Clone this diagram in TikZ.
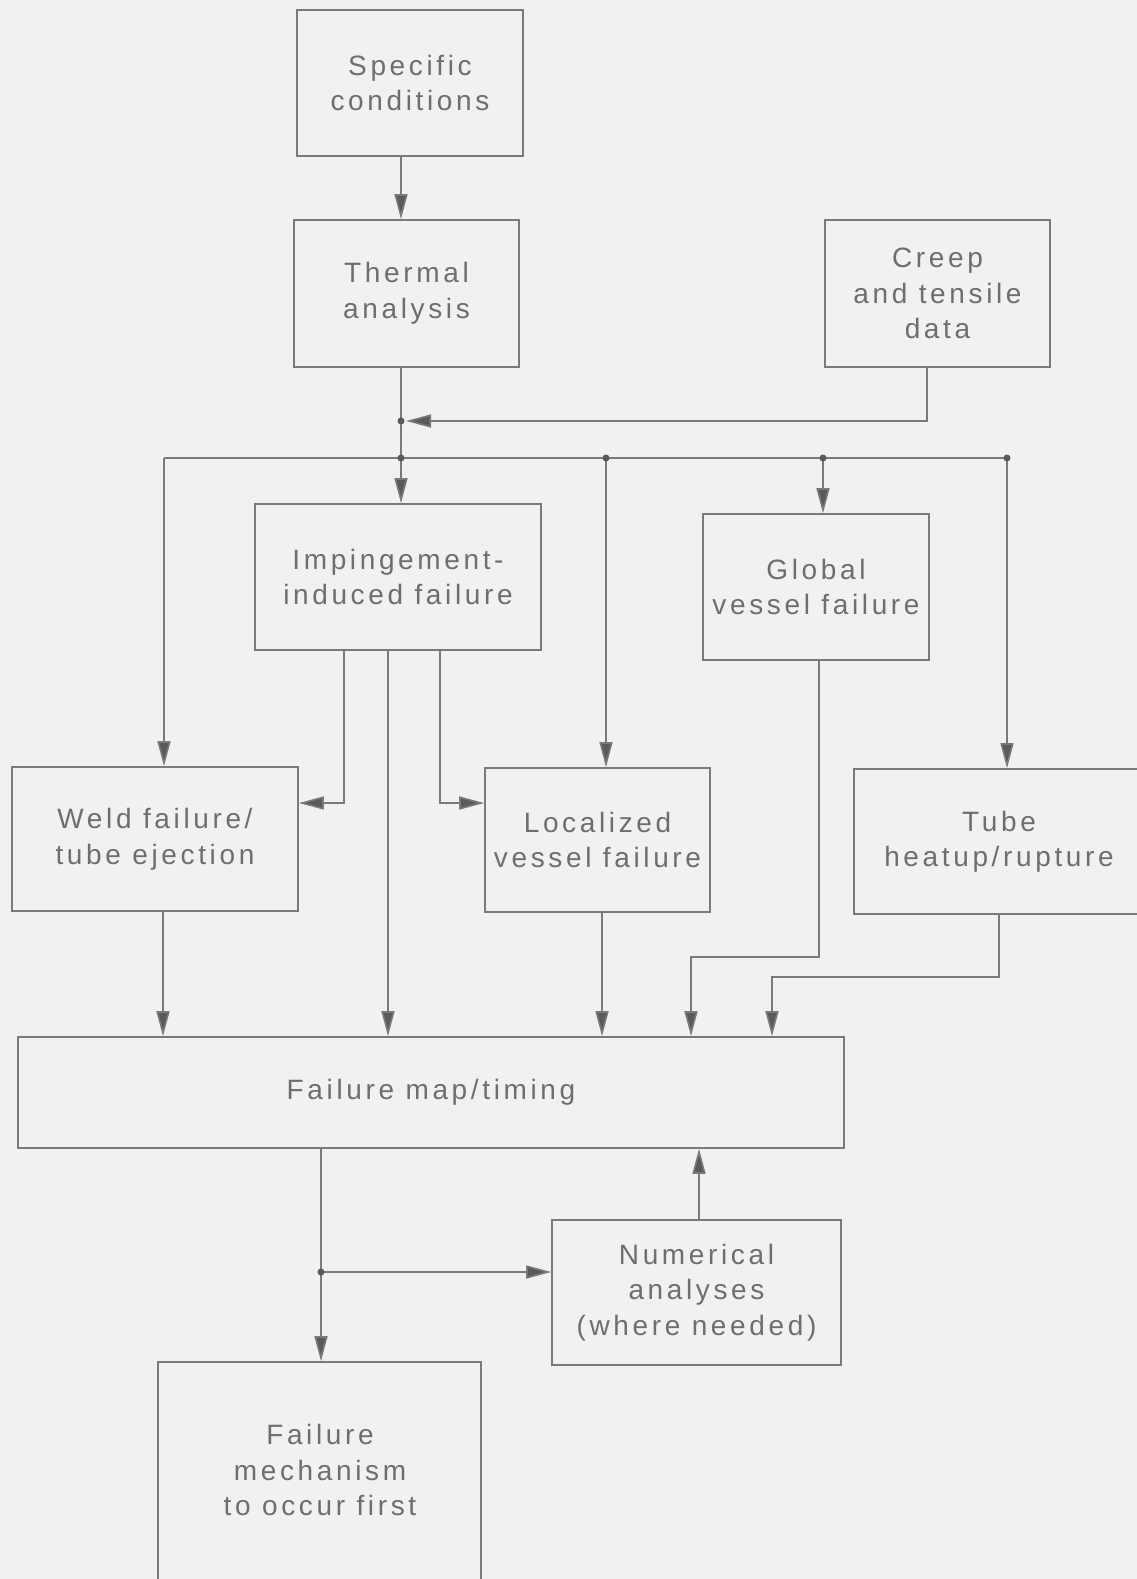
\documentclass[tikz,border=0pt]{standalone}
\usepackage{fontspec}
\setmainfont{Liberation Sans}[LetterSpace=13]
\usetikzlibrary{arrows.meta}
\definecolor{bg}{HTML}{F1F1F1}
\definecolor{ln}{HTML}{7A7A7A}
\definecolor{tx}{HTML}{6E6E6E}
\definecolor{ah}{HTML}{5A5A5A}
\tikzset{
  box/.style={draw=ln, line width=1.6pt, rectangle, inner sep=0pt},
  txt/.style={text=tx, align=center, font=\fontsize{28}{35.5}\selectfont},
  conn/.style={draw=ln, line width=1.6pt},
  arr/.style={conn, -{Triangle[length=25pt,width=13pt,fill=ah]}},
  jdot/.style={circle, fill=ah, inner sep=0pt, minimum size=7pt},
}
\begin{document}
\begin{tikzpicture}[x=1pt,y=-1pt]
\useasboundingbox (0,0) rectangle (1137,1579);
\fill[bg] (0,0) rectangle (1137,1579);
\clip (0,0) rectangle (1137,1579);

% boxes
\node[box, txt, minimum width=226pt, minimum height=146pt] (spec) at (410,83) {Specific\\conditions};
\node[box, txt, minimum width=225pt, minimum height=147pt] (therm) at (406.5,293.5) {Thermal\\analysis};
\node[box, txt, minimum width=225pt, minimum height=147pt] (creep) at (937.5,293.5) {Creep\\and tensile\\data};
\node[box, txt, minimum width=286pt, minimum height=146pt] (imp) at (398,577) {Impingement-\\induced failure};
\node[box, txt, minimum width=226pt, minimum height=146pt] (glob) at (816,587) {Global\\vessel failure};
\node[box, txt, minimum width=286pt, minimum height=144pt] (weld) at (155,839) {Weld failure/\\tube ejection};
\node[box, txt, minimum width=225pt, minimum height=144pt] (loc) at (597.5,840) {Localized\\vessel failure};
\node[box, txt, minimum width=290pt, minimum height=145pt] (tube) at (999,841.5) {Tube\\heatup/rupture};
\node[box, txt, minimum width=826pt, minimum height=111pt] (fmap) at (431,1092.5) {Failure map/timing};
\node[box, txt, minimum width=289pt, minimum height=145pt] (num) at (696.5,1292.5) {Numerical\\analyses\\(where needed)};
\node[box, minimum width=323pt, minimum height=280pt] (mech) at (319.5,1502) {};
\node[txt] (mechtxt) at (320,1470) {Failure\\mechanism\\to occur first};

% coordinates
\coordinate (j1) at (401,421);
\coordinate (j2) at (401,458);
\coordinate (cx) at (927,421);
\coordinate (dl) at (164,458);
\coordinate (d3) at (606,458);
\coordinate (d4) at (823,458);
\coordinate (d5) at (1007,458);
\coordinate (i1) at (344,803);
\coordinate (i2) at (388,803);
\coordinate (i3) at (440,803);
\coordinate (w1) at (163,960);
\coordinate (l1) at (602,960);
\coordinate (g1) at (819,957);
\coordinate (g2) at (691,957);
\coordinate (t1) at (999,977);
\coordinate (t2) at (772,977);
\coordinate (f1) at (321,1272);
\coordinate (n1) at (699,1200);

% connectors
\draw[arr] (spec.south -| j1) -- (therm.north -| j1);
\draw[arr, shorten >=5pt] (creep.south -| cx) -- (cx) -- (j1);
\draw[conn] (therm.south -| j1) -- (j2);
\draw[arr] (j2) -- (imp.north -| j2);
\draw[conn] (dl) -- (d5);
\draw[arr] (dl) -- (weld.north -| dl);
\draw[arr] (d3) -- (loc.north -| d3);
\draw[arr] (d4) -- (glob.north -| d4);
\draw[arr] (d5) -- (tube.north -| d5);

\draw[arr] (imp.south -| i1) -- (i1) -- (i1 -| weld.east);
\draw[arr] (imp.south -| i2) -- (fmap.north -| i2);
\draw[arr] (imp.south -| i3) -- (i3) -- (i3 -| loc.west);

\draw[arr] (weld.south -| w1) -- (fmap.north -| w1);
\draw[arr] (loc.south -| l1) -- (fmap.north -| l1);
\draw[arr] (glob.south -| g1) -- (g1) -- (g2) -- (fmap.north -| g2);
\draw[arr] (tube.south -| t1) -- (t1) -- (t2) -- (fmap.north -| t2);

\draw[arr] (fmap.south -| f1) -- (mech.north -| f1);
\draw[arr] (f1) -- (f1 -| num.west);
\draw[arr] (num.north -| n1) -- (fmap.south -| n1);

% junction dots
\foreach \p in {j1,j2,d3,d4,d5,f1} \node[jdot] at (\p) {};
\end{tikzpicture}
\end{document}
